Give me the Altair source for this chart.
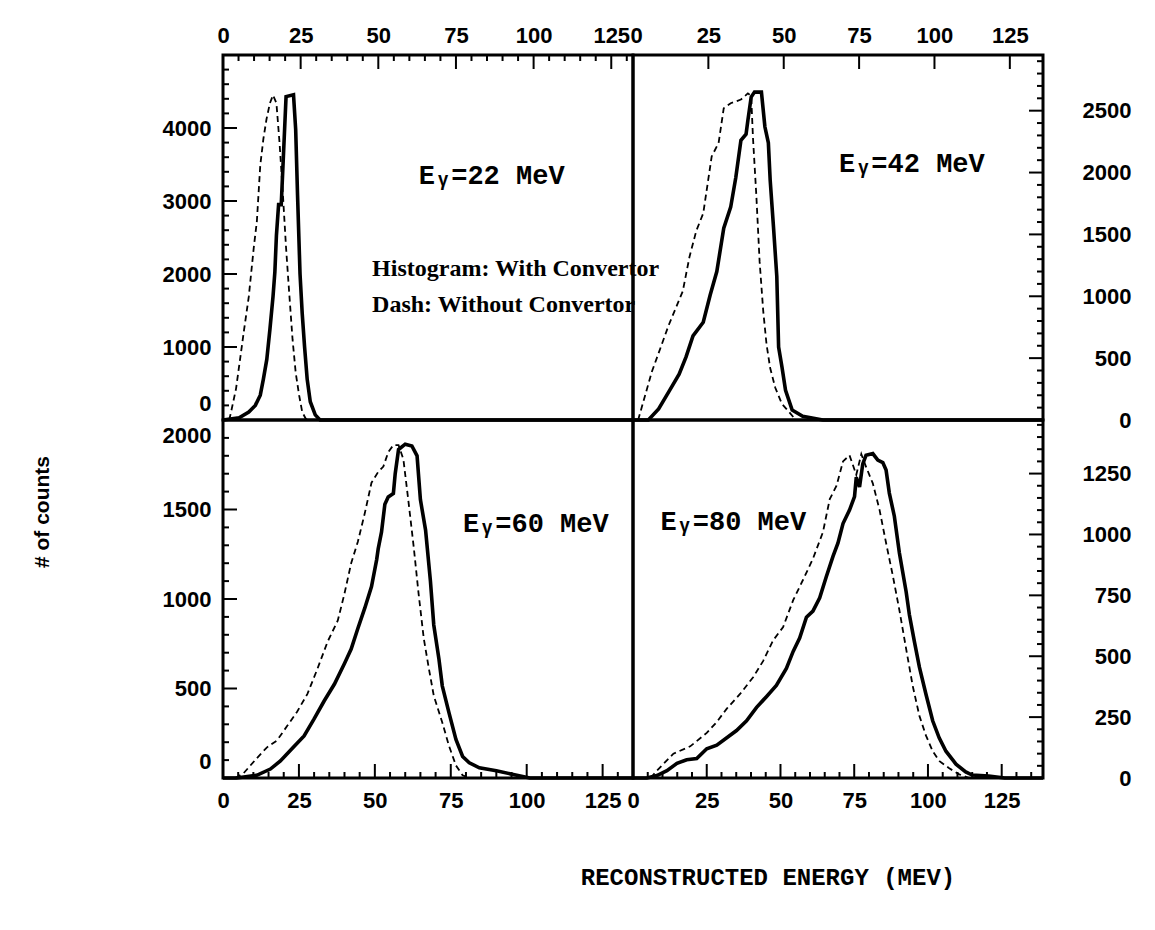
import altair as alt
import pandas as pd

# ---------------- data (MeV, counts) ----------------
tl_solid_x = [0, 5.2, 8.3, 10.4, 12, 13, 14.1, 15.1, 16.1, 16.7, 17.2, 17.9, 18.75, 19.6, 20.3, 22.7, 23.4, 24, 24.8, 25.5, 26.25, 27.1, 28.1, 29.7, 31.25, 132]
tl_solid_y = [0, 30, 110, 200, 340, 560, 830, 1240, 1690, 2030, 2530, 2950, 2950, 3760, 4430, 4455, 3980, 3080, 2000, 1460, 1010, 560, 250, 70, 0, 0]
tl_dash_x = [2.0, 2.6, 4.2, 5.2, 6.8, 8.3, 9.9, 10.9, 12, 13, 14, 15.1, 16.1, 17.2, 18.2, 19.3, 20.3, 21.4, 22.4, 23.4, 24.5, 25.5, 26.6, 27.5]
tl_dash_y = [0, 110, 430, 740, 1240, 1690, 2360, 2720, 3490, 3850, 4120, 4340, 4450, 4340, 3800, 3080, 2360, 1690, 1100, 650, 340, 110, 20, 0]

tr_solid_x = [0, 5.1, 8.5, 11.9, 15.3, 17.6, 19.9, 23.3, 25.6, 27.8, 30.1, 32.4, 34.1, 35.8, 37.5, 38.1, 39.2, 40.3, 42.6, 43.75, 44.9, 45.5, 46.6, 47.7, 48.3, 49.4, 50.6, 52.8, 56.3, 63, 136]
tr_solid_y = [0, 0, 90, 230, 370, 510, 680, 790, 1010, 1200, 1550, 1720, 1960, 2260, 2310, 2420, 2610, 2650, 2650, 2370, 2240, 1940, 1560, 1160, 590, 430, 240, 80, 30, 0, 0]
tr_dash_x = [1.7, 6.25, 11.9, 16.5, 18.75, 21, 23.3, 26.1, 28.4, 30.1, 32.4, 35.8, 38.1, 39.2, 39.8, 40.9, 42, 43.2, 44.3, 45.5, 47.2, 49.4, 52.3, 54]
tr_dash_y = [0, 390, 770, 1040, 1320, 1530, 1670, 2130, 2240, 2520, 2560, 2590, 2640, 2620, 2280, 1820, 1280, 880, 610, 420, 260, 130, 50, 0]

bl_solid_x = [0, 4.4, 11.1, 15.6, 18.9, 23.3, 26.7, 30, 33.3, 36.7, 40, 42.2, 44.4, 46.7, 48.9, 50.6, 51.1, 52.2, 53.3, 54.4, 56.1, 56.7, 57.8, 60, 62.2, 63.9, 65, 66.7, 68.3, 69.4, 71.1, 72.2, 74.4, 76.7, 78.9, 81.1, 84.4, 90, 95.6, 101, 135]
bl_solid_y = [0, 0, 15, 50, 95, 175, 235, 330, 430, 525, 640, 720, 835, 950, 1070, 1220, 1280, 1375, 1530, 1570, 1590, 1700, 1835, 1865, 1855, 1800, 1555, 1385, 1100, 855, 665, 515, 365, 215, 120, 85, 57, 40, 20, 0, 0]
bl_dash_x = [4, 6.7, 11.1, 14.4, 17.8, 21.1, 24.4, 27.8, 31.1, 34.4, 37.8, 40, 42.2, 44.4, 46.7, 48.9, 51.1, 52.8, 54.4, 56.1, 57.8, 59.4, 61.1, 62.8, 64.4, 66.1, 67.8, 69.4, 72.2, 74.4, 76.7, 78.9, 81.1]
bl_dash_y = [0, 25, 110, 170, 210, 290, 370, 470, 610, 760, 880, 1030, 1200, 1320, 1480, 1650, 1710, 1740, 1820, 1860, 1860, 1780, 1540, 1290, 1030, 780, 610, 460, 310, 180, 70, 15, 0]

br_solid_x = [0, 4.7, 8.1, 11.5, 14.9, 18.2, 21.6, 25, 28.4, 31.8, 35.1, 38.5, 41.9, 45.3, 48.6, 52, 54.3, 56.5, 58.8, 61, 63.3, 65.5, 67.8, 69.5, 71.2, 73.4, 75.1, 75.7, 76.8, 77.9, 79, 81.3, 83, 84.7, 85.8, 86.9, 88.6, 90.3, 92.6, 93.7, 95.4, 97.1, 99.3, 101.6, 103.8, 106.1, 109.5, 112.8, 115, 120.6, 126, 139]
br_solid_y = [0, 0, 10, 30, 60, 75, 80, 120, 135, 165, 195, 235, 290, 335, 380, 450, 520, 575, 660, 685, 740, 825, 910, 965, 1045, 1100, 1155, 1235, 1195, 1290, 1325, 1332, 1305, 1295, 1265, 1170, 1075, 925, 765, 670, 560, 455, 345, 235, 165, 110, 57, 25, 12, 8, 0, 0]
br_dash_x = [6, 8.1, 13.7, 19.4, 25, 28.4, 31.8, 36.3, 40.8, 44.1, 47.5, 50.9, 54.3, 57.7, 61, 64.4, 66.7, 69, 71.2, 73.4, 75.7, 77.4, 79.1, 81.3, 83.6, 85.8, 88.1, 90.3, 92.6, 94.8, 97.1, 99.3, 101.6, 103.8, 107.2, 110.6, 114]
br_dash_y = [0, 30, 100, 130, 185, 230, 285, 345, 415, 480, 565, 620, 730, 815, 900, 1010, 1145, 1200, 1300, 1325, 1245, 1330, 1275, 1210, 1100, 965, 830, 690, 530, 380, 255, 175, 110, 70, 40, 15, 0]

# axis domains and tick labels
x_labels = [0, 25, 50, 75, 100, 125]
tl_xdom, tl_ydom, tl_ylabels = [0, 132], [0, 5000], [0, 1000, 2000, 3000, 4000]
tr_xdom, tr_ydom, tr_ylabels = [0, 136], [0, 2950], [0, 500, 1000, 1500, 2000, 2500]
bl_xdom, bl_ydom, bl_ylabels = [0, 135], [0, 2000], [0, 500, 1000, 1500, 2000]
br_xdom, br_ydom, br_ylabels = [0, 139], [0, 1470], [0, 250, 500, 750, 1000, 1250]

# annotations (data coordinates)
tl_ann = (["Eᵧ=22 MeV"], [86.5], [3340])
tr_ann = (["Eᵧ=42 MeV"], [92.5], [2070])
bl_ann = (["Eᵧ=60 MeV"], [103], [1420])
br_ann = (["Eᵧ=80 MeV"], [34], [1050])
legend_text = ["Histogram: With Convertor", "Dash: Without Convertor"]
legend_x = [48, 48]
legend_y = [2070, 1570]

W_L, W_R = 410, 410
H_T, H_B = 365, 358
LABEL_FONT = "Liberation Sans"
ANN_FONT = "Liberation Mono"
MAJ, MIN = 14, 6


def panel(sx, sy, dx, dy, xdom, ydom, ylabels, w, h, xorient, yorient,
          xmin_step, xmaj_step, ymin_step, ymaj_step, ann, extra=None,
          xflush=False, yflush=False):
    xs = alt.Scale(domain=xdom, nice=False, zero=False)
    ys = alt.Scale(domain=ydom, nice=False, zero=False)
    xaxis = alt.Axis(orient=xorient, values=x_labels, format="d", ticks=False,
                     domain=False, grid=False, title=None, labelFont=LABEL_FONT,
                     labelFontSize=22, labelFontWeight="bold", labelColor="black",
                     labelPadding=8 if xorient == "top" else 12,
                     labelFlush=xflush, labelFlushOffset=3, labelOverlap=False)
    yaxis = alt.Axis(orient=yorient, values=ylabels, format="d", ticks=False,
                     domain=False, grid=False, title=None, labelFont=LABEL_FONT,
                     labelFontSize=22, labelFontWeight="bold", labelColor="black",
                     labelPadding=12 if yorient == "left" else 88,
                     labelAlign="right", labelFlush=yflush, labelFlushOffset=-5,
                     labelOverlap=False)
    X = lambda f: alt.X(f, type="quantitative", scale=xs, axis=xaxis)
    Y = lambda f: alt.Y(f, type="quantitative", scale=ys, axis=yaxis)

    ds = pd.DataFrame({"e": sx, "c": sy, "i": range(len(sx))})
    dd = pd.DataFrame({"e": dx, "c": dy, "i": range(len(dx))})
    layers = []
    layers.append(alt.Chart(dd).mark_line(color="black", strokeWidth=1.8,
                                          strokeDash=[6, 4]).encode(
        x=X("e"), y=Y("c"), order="i:Q"))
    layers.append(alt.Chart(ds).mark_line(color="black", strokeWidth=3.6,
                                          strokeJoin="miter").encode(
        x=X("e"), y=Y("c"), order="i:Q"))

    # inward ticks on the x edge
    xv = [v for v in range(0, int(xdom[1]) + 1, xmin_step)]
    xmaj = [v for v in xv if v % xmaj_step == 0]
    xminr = [v for v in xv if v % xmaj_step != 0]
    edge = 0 if xorient == "top" else h
    sgn = 1 if xorient == "top" else -1
    for vals, L in ((xmaj, MAJ), (xminr, MIN)):
        if vals:
            layers.append(alt.Chart(pd.DataFrame({"v": vals})).mark_rule(
                color="black", strokeWidth=2).encode(
                x=X("v"), y=alt.value(edge), y2=alt.value(edge + sgn * L)))
    # inward ticks on the y edge
    yv = [v for v in range(0, int(ydom[1]) + 1, ymin_step)]
    ymaj = [v for v in yv if v % ymaj_step == 0]
    yminr = [v for v in yv if v % ymaj_step != 0]
    edge = 0 if yorient == "left" else w
    sgn = 1 if yorient == "left" else -1
    for vals, L in ((ymaj, MAJ), (yminr, MIN)):
        if vals:
            layers.append(alt.Chart(pd.DataFrame({"v": vals})).mark_rule(
                color="black", strokeWidth=2).encode(
                y=Y("v"), x=alt.value(edge), x2=alt.value(edge + sgn * L)))

    t, ax, ay = ann
    layers.append(alt.Chart(pd.DataFrame({"t": t, "e": ax, "c": ay})).mark_text(
        font=ANN_FONT, fontSize=27, fontWeight="bold", color="black",
        align="center", baseline="middle").encode(x=X("e"), y=Y("c"), text="t:N"))
    if extra is not None:
        for ch in extra:
            layers.append(ch(X, Y))
    return alt.layer(*layers).properties(width=w, height=h)


def legend_layer(X, Y):
    df = pd.DataFrame({"t": legend_text, "e": legend_x, "c": legend_y})
    return alt.Chart(df).mark_text(font="Liberation Serif", fontSize=24,
                                   fontWeight="bold", color="black",
                                   align="left", baseline="middle").encode(
        x=X("e"), y=Y("c"), text="t:N")


def titles_layer(X, Y):
    df = pd.DataFrame({"t": ["# of counts"]})
    return alt.Chart(df).mark_text(font=LABEL_FONT, fontSize=21, fontWeight="bold",
                                   color="black", angle=270, align="center",
                                   baseline="middle").encode(
        x=alt.value(-180), y=alt.value(92), text="t:N")


def xtitle_layer(X, Y):
    df = pd.DataFrame({"t": ["RECONSTRUCTED ENERGY (MEV)"]})
    return alt.Chart(df).mark_text(font=ANN_FONT, fontSize=24, fontWeight="bold",
                                   color="black", align="center",
                                   baseline="middle").encode(
        x=alt.value(545), y=alt.value(458), text="t:N")


tl = panel(tl_solid_x, tl_solid_y, tl_dash_x, tl_dash_y, tl_xdom, tl_ydom, tl_ylabels,
           W_L, H_T, "top", "left", 5, 25, 200, 1000, tl_ann, extra=[legend_layer],
           yflush=True)
tr = panel(tr_solid_x, tr_solid_y, tr_dash_x, tr_dash_y, tr_xdom, tr_ydom, tr_ylabels,
           W_R, H_T, "top", "right", 25, 25, 100, 500, tr_ann, xflush=True)
bl = panel(bl_solid_x, bl_solid_y, bl_dash_x, bl_dash_y, bl_xdom, bl_ydom, bl_ylabels,
           W_L, H_B, "bottom", "left", 5, 25, 100, 500, bl_ann,
           extra=[titles_layer, xtitle_layer], yflush=True)
br = panel(br_solid_x, br_solid_y, br_dash_x, br_dash_y, br_xdom, br_ydom, br_ylabels,
           W_R, H_B, "bottom", "right", 5, 25, 50, 250, br_ann)

chart = alt.concat(tl, tr, bl, br, columns=2, spacing=0, bounds="flush",
                   align="each").properties(
    padding={"left": 30, "top": 22, "right": 0, "bottom": 0},
    background="white",
).configure_view(stroke="black", strokeWidth=3)

chart.save("out.html", embed_options={"renderer": "svg", "actions": False})
